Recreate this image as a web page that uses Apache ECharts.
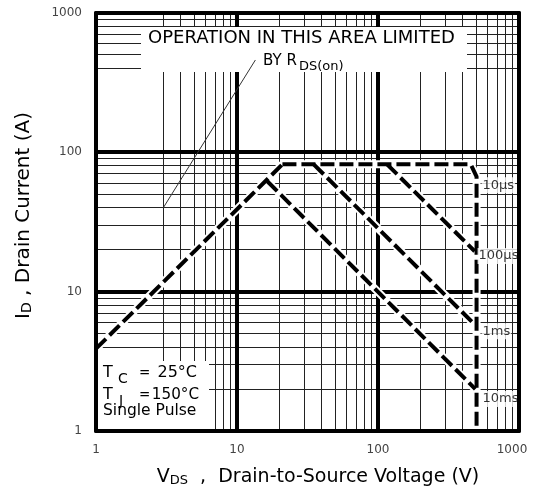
<!DOCTYPE html>
<html>
<head>
<meta charset="utf-8">
<script src="https://cdn.jsdelivr.net/npm/echarts@6/dist/echarts.min.js"></script>
<style>
html,body{margin:0;padding:0;background:#fff;}
#chart{width:539px;height:489px;}
</style>
</head>
<body>
<div id="chart"></div>
<script>
// ---- axis ranges and grid values ----
const xRange = [1, 1000];
const yRange = [1, 1000];
const xMajorGrid = [10, 100];
const yMajorGrid = [10, 100];
const xMinorGrid = [3, 4, 5, 6, 7, 8, 9, 20, 30, 40, 50, 60, 70, 80, 90, 200, 300, 400, 500, 600, 700, 800, 900];
const yMinorGrid = [2, 3, 4, 5, 6, 7, 8, 9, 20, 30, 40, 50, 60, 70, 80, 90, 400, 500, 600, 700, 800, 900];

// ---- safe operating area boundaries [VDS (V), ID (A)] ----
const rdsLimit   = [[1, 3.9], [21, 82]];
const pulse10us  = [[21, 82], [455, 82], [500, 67], [500, 1]];
const pulse100us = [[116, 82], [485, 19.5]];
const pulse1ms   = [[35, 82], [490, 5.75]];
const pulse10ms  = [[16.4, 62], [490, 2.0]];
const rdsPointer = [[3, 40], [13.5, 460]];

// ---- curve labels ----
const curveLabels = ['10µs', '100µs', '1ms', '10ms'];
const curveLabelV = [500, 500, 500, 500];
const curveLabelI = [58, 18, 5.2, 1.7];

const FONT = 'DejaVu Sans';
const chart = echarts.init(document.getElementById('chart'));

function gridSeries(values, vertical, width, color) {
  return {
    type: 'custom', silent: true, animation: false, z: 1, clip: false,
    data: values.map(v => vertical ? [v, yRange[0]] : [xRange[0], v]),
    renderItem(params, api) {
      const snap = c => (width % 2 ? Math.round(c - 0.5) + 0.5 : Math.round(c));
      let p1, p2;
      if (vertical) {
        const v = api.value(0);
        p1 = api.coord([v, yRange[0]]); p2 = api.coord([v, yRange[1]]);
        p1[0] = p2[0] = snap(p1[0]);
      } else {
        const v = api.value(1);
        p1 = api.coord([xRange[0], v]); p2 = api.coord([xRange[1], v]);
        p1[1] = p2[1] = snap(p1[1]);
      }
      return { type: 'line', shape: { x1: p1[0], y1: p1[1], x2: p2[0], y2: p2[1] },
               style: { stroke: color, lineWidth: width } };
    }
  };
}

const curves = [rdsLimit, pulse10us, pulse100us, pulse1ms, pulse10ms];
const haloSeries = curves.map(d => ({
  type: 'line', data: d, symbol: 'none', silent: true, animation: false, z: 3,
  lineStyle: { color: '#fff', width: 8 }
}));
const dashSeries = curves.map(d => ({
  type: 'line', data: d, symbol: 'none', silent: true, animation: false, z: 4,
  lineStyle: { color: '#000', width: 4, type: [14, 5] }
}));

const labelSeries = {
  type: 'scatter', symbolSize: 0, silent: true, animation: false, z: 7,
  data: curveLabels.map((t, i) => ({
    value: [curveLabelV[i], curveLabelI[i], t],
    label: { distance: t === '100µs' ? 1 : 5 }
  })),
  label: {
    show: true, position: 'right', formatter: p => p.value[2],
    fontFamily: FONT, fontSize: 13, color: '#000',
    backgroundColor: '#fff', padding: [2, 1, 1, 1]
  }
};

const axisBase = {
  type: 'log', logBase: 10, splitNumber: 3,
  axisTick: { show: false }, splitLine: { show: false }, minorTick: { show: false },
  axisLine: { show: true, lineStyle: { color: '#000', width: 4 } },
  z: 10
};

function txt(text, x, y, size, align, extra) {
  return Object.assign({
    type: 'text', x: x, y: y, z: 8, silent: true,
    style: { text: text, fontFamily: FONT, fontSize: size, fill: '#000',
             align: align || 'left', verticalAlign: 'middle' }
  }, extra || {});
}

const tickFmt = v => {
  const n = Math.round(v);
  return n === xRange[1] ? '{r|' + n + '}' : String(n);
};

const option = {
  animation: false,
  backgroundColor: '#fff',
  grid: { left: 96, right: 20, top: 13, bottom: 58, containLabel: false, outerBoundsMode: 'none' },
  xAxis: [
    Object.assign({}, axisBase, {
      position: 'bottom', min: xRange[0], max: xRange[1],
      axisLabel: { fontFamily: FONT, fontSize: 12, color: '#444', margin: 13, formatter: tickFmt,
                   rich: { r: { fontFamily: FONT, fontSize: 12, color: '#444', padding: [0, 14, 0, 0] } } },
      name: '{m|V}{s|DS}{m|  ,  Drain-to-Source Voltage (V)}',
      nameLocation: 'middle', nameGap: 32, nameMoveOverlap: false,
      nameTextStyle: {
        color: '#000', padding: [0, 0, 0, 21],
        rich: {
          m: { fontFamily: FONT, fontSize: 19, lineHeight: 24, verticalAlign: 'bottom', color: '#000' },
          s: { fontFamily: FONT, fontSize: 13, lineHeight: 14, verticalAlign: 'bottom', color: '#000' }
        }
      }
    }),
    Object.assign({}, axisBase, { position: 'top', min: xRange[0], max: xRange[1], axisLabel: { show: false } })
  ],
  yAxis: [
    Object.assign({}, axisBase, {
      position: 'left', min: yRange[0], max: yRange[1],
      axisLabel: { fontFamily: FONT, fontSize: 12, color: '#444', margin: 14, formatter: v => String(Math.round(v)) },
      name: '{m|I}{s|D}{m| , Drain Current (A)}',
      nameLocation: 'middle', nameRotate: 90, nameGap: 62, nameMoveOverlap: false,
      nameTextStyle: {
        color: '#000', padding: [0, 0, 0, 13],
        rich: {
          m: { fontFamily: FONT, fontSize: 20, lineHeight: 25, verticalAlign: 'bottom', color: '#000' },
          s: { fontFamily: FONT, fontSize: 14, lineHeight: 15, verticalAlign: 'bottom', color: '#000' }
        }
      }
    }),
    Object.assign({}, axisBase, { position: 'right', min: yRange[0], max: yRange[1], axisLabel: { show: false } })
  ],
  series: [
    gridSeries(xMinorGrid, true, 1, '#222'),
    gridSeries(yMinorGrid, false, 1, '#222'),
    gridSeries(xMajorGrid, true, 4, '#000'),
    gridSeries(yMajorGrid, false, 4, '#000'),
    ...haloSeries,
    ...dashSeries,
    {
      type: 'line', data: rdsPointer, symbol: 'none', silent: true, animation: false, z: 6,
      lineStyle: { color: '#333', width: 1 }
    },
    labelSeries
  ],
  graphic: {
    elements: [
      { type: 'rect', z: 5, silent: true, shape: { x: 141, y: 27, width: 326, height: 45 }, style: { fill: '#fff' } },
      { type: 'rect', z: 5, silent: true, shape: { x: 96, y: 361, width: 113, height: 70 }, style: { fill: '#fff' } },
      txt('OPERATION IN THIS AREA LIMITED', 148, 38.5, 18),
      txt('BY R', 263, 61.5, 15),
      txt('DS(on)', 299, 66.5, 13),
      txt('T', 103, 372.5, 16),
      txt('C', 118, 379, 14),
      txt('=', 139, 373, 13.5),
      txt('25°C', 197, 372.5, 16, 'right'),
      txt('T', 103, 394.5, 16),
      txt('J', 119, 401, 14),
      txt('=', 139, 395.5, 13.5),
      txt('150°C', 199, 395, 15.2, 'right'),
      txt('Single Pulse', 103, 410.5, 15.5)
    ]
  }
};
chart.setOption(option);
</script>
</body>
</html>
